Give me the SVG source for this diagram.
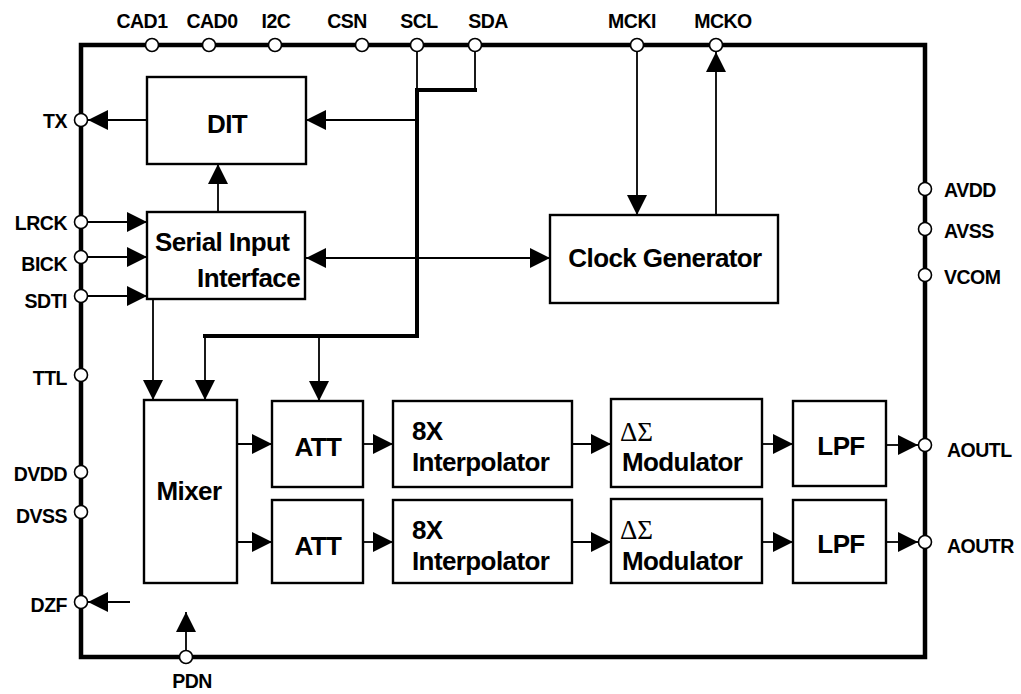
<svg xmlns="http://www.w3.org/2000/svg" width="1021" height="694" viewBox="0 0 1021 694">
<style>
.box{fill:#fff;stroke:#000;stroke-width:2.4}
.frame{fill:none;stroke:#000;stroke-width:4.5;stroke-linejoin:miter}
.thick{fill:none;stroke:#000;stroke-width:4}
.ln{fill:none;stroke:#000;stroke-width:1.8}
.arr{fill:none;stroke:#000;stroke-width:1.8;marker-end:url(#ah)}
.pin{fill:#fff;stroke:#000;stroke-width:1.6}
.t{font-family:"Liberation Sans",Arial,sans-serif;font-weight:bold;font-size:26px;letter-spacing:-0.6px;fill:#000}
.p{font-family:"Liberation Sans",Arial,sans-serif;font-weight:bold;font-size:19.5px;letter-spacing:-0.5px;fill:#000}
.s{font-family:"Liberation Serif","Times New Roman",serif;font-size:27px;fill:#000}
.m{text-anchor:middle}
.e{text-anchor:end}
</style>
<defs>
<marker id="ah" viewBox="0 0 20 20" refX="20" refY="10" markerWidth="20" markerHeight="20" markerUnits="userSpaceOnUse" orient="auto-start-reverse">
<path d="M0,0 L20,10 L0,20 Z" fill="#000"/>
</marker>
</defs>

<g id="frame">
<rect class="frame" x="81" y="45" width="844" height="612"/>
</g>

<g id="connectors">
<line class="arr" x1="147" y1="120" x2="88" y2="120"/>
<line class="arr" x1="417" y1="120" x2="306" y2="120"/>
<line class="arr" x1="218" y1="212" x2="218" y2="164"/>
<line class="arr" x1="88" y1="222" x2="147" y2="222"/>
<line class="arr" x1="88" y1="257" x2="147" y2="257"/>
<line class="arr" x1="88" y1="296" x2="147" y2="296"/>
<line class="arr" x1="306" y1="258" x2="550" y2="258" marker-start="url(#ah)"/>
<line class="arr" x1="637" y1="52" x2="637" y2="215"/>
<line class="arr" x1="716" y1="215" x2="716" y2="52"/>
<line class="arr" x1="153" y1="299" x2="153" y2="400"/>
<line class="ln" x1="417" y1="45" x2="417" y2="90"/>
<line class="ln" x1="475" y1="45" x2="475" y2="90"/>
<path class="thick" d="M477,90 H417 V336 H203"/>
<line class="arr" x1="205" y1="336" x2="205" y2="400"/>
<line class="arr" x1="319" y1="336" x2="319" y2="401"/>
<line class="arr" x1="237" y1="444" x2="272" y2="444"/>
<line class="arr" x1="363" y1="444" x2="393" y2="444"/>
<line class="arr" x1="572" y1="444" x2="611" y2="444"/>
<line class="arr" x1="762" y1="444" x2="793" y2="444"/>
<line class="arr" x1="886" y1="445" x2="918" y2="445"/>
<line class="arr" x1="237" y1="542" x2="272" y2="542"/>
<line class="arr" x1="363" y1="542" x2="393" y2="542"/>
<line class="arr" x1="572" y1="542" x2="611" y2="542"/>
<line class="arr" x1="762" y1="542" x2="793" y2="542"/>
<line class="arr" x1="886" y1="542" x2="918" y2="542"/>
<line class="arr" x1="130" y1="602" x2="88" y2="602"/>
<line class="arr" x1="186" y1="650" x2="186" y2="612"/>
</g>

<g id="pins">
<circle class="pin" cx="152" cy="45" r="6.5"/>
<circle class="pin" cx="209" cy="45" r="6.5"/>
<circle class="pin" cx="275" cy="45" r="6.5"/>
<circle class="pin" cx="362" cy="45" r="6.5"/>
<circle class="pin" cx="417" cy="45" r="6.5"/>
<circle class="pin" cx="475" cy="45" r="6.5"/>
<circle class="pin" cx="637" cy="45" r="6.5"/>
<circle class="pin" cx="716" cy="45" r="6.5"/>
<circle class="pin" cx="81" cy="120" r="6.5"/>
<circle class="pin" cx="81" cy="222" r="6.5"/>
<circle class="pin" cx="81" cy="257" r="6.5"/>
<circle class="pin" cx="81" cy="296" r="6.5"/>
<circle class="pin" cx="81" cy="375" r="6.5"/>
<circle class="pin" cx="81" cy="472" r="6.5"/>
<circle class="pin" cx="81" cy="512" r="6.5"/>
<circle class="pin" cx="81" cy="602" r="6.5"/>
<circle class="pin" cx="186" cy="657" r="6.5"/>
<circle class="pin" cx="925" cy="189" r="6.5"/>
<circle class="pin" cx="925" cy="229" r="6.5"/>
<circle class="pin" cx="925" cy="275" r="6.5"/>
<circle class="pin" cx="925" cy="445" r="6.5"/>
<circle class="pin" cx="925" cy="542" r="6.5"/>
<text class="p m" x="142" y="28">CAD1</text>
<text class="p m" x="212" y="28">CAD0</text>
<text class="p m" x="276" y="28">I2C</text>
<text class="p m" x="347" y="28">CSN</text>
<text class="p m" x="419" y="28">SCL</text>
<text class="p m" x="488" y="28">SDA</text>
<text class="p m" x="632" y="28">MCKI</text>
<text class="p m" x="723" y="28">MCKO</text>
<text class="p e" x="67" y="128">TX</text>
<text class="p e" x="67" y="230">LRCK</text>
<text class="p e" x="67" y="271">BICK</text>
<text class="p e" x="67" y="308">SDTI</text>
<text class="p e" x="67" y="385">TTL</text>
<text class="p e" x="67" y="481">DVDD</text>
<text class="p e" x="67" y="523">DVSS</text>
<text class="p e" x="67" y="612">DZF</text>
<text class="p m" x="192" y="688">PDN</text>
<text class="p" x="944" y="197">AVDD</text>
<text class="p" x="944" y="238">AVSS</text>
<text class="p" x="944" y="284">VCOM</text>
<text class="p" x="947" y="457">AOUTL</text>
<text class="p" x="947" y="553">AOUTR</text>
</g>

<g id="dit">
<rect class="box" x="147" y="77" width="159" height="87"/>
<text class="t m" x="227" y="133">DIT</text>
</g>
<g id="sii">
<rect class="box" x="147" y="212" width="158" height="87"/>
<text class="t" x="155" y="251">Serial Input</text>
<text class="t e" x="300" y="287">Interface</text>
</g>
<g id="clock">
<rect class="box" x="550" y="215" width="228" height="88"/>
<text class="t m" x="665" y="267">Clock Generator</text>
</g>
<g id="mixer">
<rect class="box" x="144" y="400" width="93" height="183"/>
<text class="t m" x="189" y="500">Mixer</text>
</g>
<g id="att1">
<rect class="box" x="272" y="401" width="91" height="86"/>
<text class="t m" x="318" y="456">ATT</text>
</g>
<g id="att2">
<rect class="box" x="272" y="500" width="91" height="83"/>
<text class="t m" x="318" y="555">ATT</text>
</g>
<g id="interp1">
<rect class="box" x="393" y="401" width="179" height="86"/>
<text class="t" x="412" y="440">8X</text>
<text class="t" x="412" y="471">Interpolator</text>
</g>
<g id="interp2">
<rect class="box" x="393" y="500" width="179" height="83"/>
<text class="t" x="412" y="539">8X</text>
<text class="t" x="412" y="570">Interpolator</text>
</g>
<g id="mod1">
<rect class="box" x="611" y="399" width="151" height="88"/>
<text class="s" x="620" y="441">ΔΣ</text>
<text class="t" x="622" y="471">Modulator</text>
</g>
<g id="mod2">
<rect class="box" x="611" y="499" width="151" height="84"/>
<text class="s" x="620" y="539">ΔΣ</text>
<text class="t" x="622" y="570">Modulator</text>
</g>
<g id="lpf1">
<rect class="box" x="793" y="401" width="93" height="85"/>
<text class="t m" x="841" y="455">LPF</text>
</g>
<g id="lpf2">
<rect class="box" x="793" y="500" width="93" height="83"/>
<text class="t m" x="841" y="553">LPF</text>
</g>
</svg>
